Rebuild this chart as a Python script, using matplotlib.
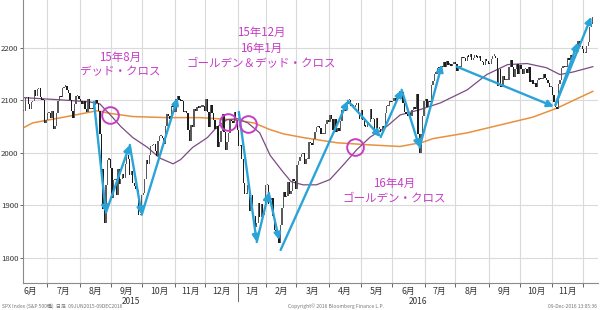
import numpy as np
import pandas as pd
import matplotlib
matplotlib.use('Agg')
import matplotlib.pyplot as plt

plt.rcParams['font.family'] = ['Noto Sans CJK JP', 'DejaVu Sans']

# --- データ（S&P 500 日足終値, 2015/6/9 - 2016/12/9） ---
holidays = ['2015-07-03', '2015-09-07', '2015-11-26', '2015-12-25', '2016-01-01',
            '2016-01-18', '2016-02-15', '2016-03-25', '2016-05-30', '2016-07-04',
            '2016-09-05', '2016-11-24']

close = [
    2080, 2105, 2108, 2094, 2085, 2097, 2100, 2121, 2110, 2122, 2124, 2108, 2102, 2101, 2058, 2063,
    2077, 2077, 2068, 2081, 2047, 2052, 2077, 2100, 2109, 2107, 2124, 2127, 2129, 2120, 2115, 2102,
    2080, 2068, 2093, 2109, 2109, 2104,
    2099, 2094, 2100, 2084, 2078, 2104, 2084, 2086, 2084, 2092, 2102, 2096, 2080, 2036, 1971,
    1893, 1867, 1940, 1988, 1989, 1972,
    1914, 1949, 1951, 1921, 1970, 1942, 1952, 1961, 1953, 1979, 1996, 1990, 1958, 1967, 1943,
    1938, 1932, 1931, 1882, 1884, 1920,
    1924, 1951, 1988, 1980, 1996, 2014, 2015, 2017, 2004, 1994, 2024, 2033, 2033, 2030, 2018,
    2052, 2075, 2071, 2066, 2090, 2089, 2079,
    2104, 2109, 2102, 2100, 2099, 2079, 2081, 2076, 2045, 2023, 2053, 2051, 2084, 2081, 2089,
    2087, 2089, 2089, 2090, 2080,
    2103, 2079, 2050, 2092, 2077, 2063, 2047, 2052, 2012, 2022, 2043, 2074, 2041, 2006, 2021,
    2038, 2064, 2061, 2057, 2078, 2063, 2044,
    2013, 2016, 1990, 1943, 1922, 1923, 1939, 1890, 1921, 1880, 1881, 1859, 1868, 1906, 1878,
    1903, 1882, 1893, 1940,
    1940, 1904, 1912, 1915, 1880, 1853, 1852, 1851, 1829, 1864, 1895, 1927, 1917, 1918, 1945,
    1922, 1929, 1951, 1948, 1932,
    1978, 1986, 1993, 1999, 2001, 1980, 1989, 1989, 2022, 2019, 2015, 2027, 2040, 2050, 2051,
    2049, 2036, 2036, 2037, 2055, 2063, 2060,
    2073, 2066, 2045, 2066, 2041, 2048, 2042, 2061, 2082, 2083, 2081, 2094, 2101, 2102, 2091,
    2092, 2088, 2092, 2095, 2075, 2065,
    2082, 2063, 2052, 2051, 2058, 2059, 2084, 2065, 2065, 2047, 2067, 2047, 2047, 2040, 2052,
    2048, 2076, 2090, 2090, 2099, 2097,
    2099, 2105, 2099, 2110, 2112, 2119, 2116, 2096, 2079, 2075, 2072, 2077, 2071, 2083, 2089,
    2085, 2113, 2037, 2001, 2037, 2071, 2099,
    2103, 2088, 2100, 2098, 2130, 2137, 2152, 2152, 2163, 2162, 2167, 2164, 2173, 2165, 2175,
    2169, 2169, 2167, 2170, 2174,
    2171, 2157, 2164, 2164, 2183, 2181, 2182, 2175, 2186, 2184, 2190, 2178, 2182, 2187, 2184,
    2182, 2186, 2175, 2173, 2169, 2180, 2176, 2171,
    2170, 2180, 2186, 2186, 2182, 2128, 2160, 2127, 2126, 2147, 2139, 2139, 2140, 2164, 2177,
    2165, 2146, 2160, 2171, 2151, 2168,
    2161, 2151, 2160, 2161, 2153, 2164, 2136, 2139, 2132, 2133, 2127, 2140, 2144, 2141, 2141,
    2151, 2143, 2139, 2133, 2126, 2126,
    2111, 2097, 2089, 2085, 2132, 2140, 2163, 2167, 2164, 2165, 2181, 2177, 2188, 2182, 2198,
    2203, 2205, 2213, 2202, 2205, 2199,
    2191, 2192, 2205, 2212, 2241, 2246, 2260,
]

# 50日移動平均（紫）
ma50_dates = ['2015-06-09', '2015-07-14', '2015-08-11', '2015-08-20', '2015-08-31', '2015-09-10',
              '2015-09-22', '2015-10-06', '2015-10-16', '2015-10-29', '2015-11-05', '2015-11-17',
              '2015-12-02', '2015-12-10', '2015-12-21', '2015-12-31', '2016-01-12', '2016-01-25',
              '2016-02-03', '2016-02-17', '2016-02-24', '2016-03-07', '2016-03-18', '2016-04-01',
              '2016-04-14', '2016-04-27', '2016-05-10', '2016-05-25', '2016-06-08', '2016-06-27',
              '2016-07-18', '2016-08-11', '2016-08-30', '2016-09-20', '2016-10-07', '2016-10-26',
              '2016-11-08', '2016-11-21', '2016-12-09']
ma50_vals = [2105, 2101, 2097, 2093, 2072, 2050, 2029, 2010, 1990, 1979, 1987, 2010,
             2029, 2048, 2063, 2065, 2057, 2038, 1995, 1962, 1945, 1939, 1939, 1949,
             1977, 2006, 2030, 2050, 2072, 2082, 2095, 2120, 2149, 2168, 2170, 2162,
             2149, 2154, 2164]

# 200日移動平均（オレンジ）
ma200_dates = ['2015-06-09', '2015-06-17', '2015-07-21', '2015-08-18', '2015-08-31', '2015-09-22',
               '2015-10-23', '2015-11-24', '2015-12-28', '2016-01-19', '2016-02-03', '2016-02-17',
               '2016-03-07', '2016-04-08', '2016-05-10', '2016-06-08', '2016-06-29', '2016-07-11',
               '2016-08-11', '2016-09-13', '2016-10-13', '2016-11-04', '2016-12-09']
ma200_vals = [2048, 2057, 2069, 2080, 2075, 2069, 2067, 2067, 2063, 2057, 2044, 2036,
              2029, 2019, 2015, 2012, 2020, 2027, 2038, 2053, 2068, 2085, 2117]

# 矢印（始点→終点）
arrow_from_dates = ['2015-08-14', '2015-08-26', '2015-09-18', '2015-09-30', '2016-01-04',
                    '2016-01-21', '2016-02-02', '2016-02-12', '2016-04-19', '2016-05-19',
                    '2016-06-09', '2016-06-27', '2016-08-02', '2016-11-03', '2016-11-03']
arrow_from_vals = [2097, 1886, 2015, 1882, 2078, 1830, 1924, 1815, 2099, 2030, 2120, 2010,
                   2164, 2091, 2091]
arrow_to_dates = ['2015-08-26', '2015-09-18', '2015-09-30', '2015-11-03', '2016-01-21',
                  '2016-02-02', '2016-02-11', '2016-04-19', '2016-05-19', '2016-06-09',
                  '2016-06-27', '2016-07-19', '2016-11-02', '2016-11-25', '2016-12-08']
arrow_to_vals = [1886, 2015, 1882, 2105, 1830, 1924, 1834, 2099, 2030, 2120, 2010, 2168,
                 2088, 2210, 2259]

# クロスの丸印
cross_dates = ['2015-08-31', '2015-12-22', '2016-01-12', '2016-04-26']
cross_vals = [2072, 2059, 2055, 2011]

dates = pd.bdate_range('2015-06-09', '2016-12-09', freq='C', holidays=holidays)
n = min(len(dates), len(close))
dates = dates[:n]
close = np.array(close[:n], dtype=float)


def pos(d):
    return dates.get_loc(pd.Timestamp(d))


fig = plt.figure(figsize=(6, 3.1), dpi=100)
ax = fig.add_axes([23 / 600, 27 / 310, 575 / 600, 283 / 310])
ax.set_xlim(-0.5, 384.5)
ax.set_ylim(1752, 2291)

# ローソク足（始値は前日終値）
x = np.arange(n)
op = np.r_[close[0], close[:-1]]
up = close >= op
ax.bar(x, np.maximum(np.abs(close - op), 2.5), bottom=np.minimum(op, close) - 1, width=0.9,
       color=np.where(up, '#5a5a5a', '#1c1c1c'), linewidth=0, zorder=3)

# 移動平均
ax.plot([pos(d) for d in ma200_dates], ma200_vals, color='#e8913f', lw=1.1, zorder=2)
ax.plot([pos(d) for d in ma50_dates], ma50_vals, color='#7d4a84', lw=0.9, zorder=2)

# 矢印
for d0, v0, d1, v1 in zip(arrow_from_dates, arrow_from_vals, arrow_to_dates, arrow_to_vals):
    ax.annotate('', xy=(pos(d1), v1), xytext=(pos(d0), v0),
                arrowprops=dict(arrowstyle='-|>', color='#2aa4d8', lw=1.7,
                                mutation_scale=10, shrinkA=0, shrinkB=0), zorder=5)

# 丸印
ax.plot([pos(d) for d in cross_dates], cross_vals, 'o', mfc='none', mec='#c63ec6',
        ms=12, mew=1.4, zorder=6)

# 注記
txt_color = '#c63ec6'
ax.text(pos('2015-09-10') - 0.5, 2168, '15年8月\nデッド・クロス', color=txt_color, fontsize=8.3,
        ha='center', va='center', linespacing=1.2, zorder=7)
ax.text(pos('2016-01-26'), 2199, '15年12月\n16年1月\nゴールデン＆デッド・クロス', color=txt_color,
        fontsize=8.3, ha='center', va='center', linespacing=1.25, zorder=7)
ax.text(pos('2016-06-02'), 1928, '16年4月\nゴールデン・クロス', color=txt_color, fontsize=8.3,
        ha='center', va='center', linespacing=1.2, zorder=7)

# 月の区切り
month_start = [i for i in range(1, n) if dates[i].month != dates[i - 1].month]
bounds = [i - 0.5 for i in month_start]
ax.set_xticks(bounds)
ax.set_xticklabels([])
ax.tick_params(axis='x', length=3, color='#666666', width=0.7)
widths = np.diff(bounds)
centers = [bounds[0] - widths[0] / 2] + [b + w / 2 for b, w in zip(bounds[:-1], widths)]
labels = ['%d月' % dates[month_start[0] - 1].month] + ['%d月' % dates[i].month for i in month_start[:-1]]
xtr = ax.get_xaxis_transform()
for cx, lab in zip(centers, labels):
    ax.text(cx, -0.03, lab, transform=xtr, fontsize=6.3, color='#333333',
            ha='center', va='center')

# 年ラベル
year_b = [b for b, i in zip(bounds, month_start) if dates[i].month == 1][0]
ax.plot([year_b, year_b], [0, -0.065], transform=xtr, clip_on=False, color='#666666', lw=0.7)
ax.text((-0.5 + year_b) / 2, -0.066, '2015', transform=xtr, fontsize=6, color='#333333',
        ha='center', va='center')
ax.text((year_b + 385) / 2, -0.066, '2016', transform=xtr, fontsize=6, color='#333333',
        ha='center', va='center')

# Y軸
ax.set_yticks([1800, 1900, 2000, 2100, 2200])
ax.tick_params(axis='y', length=2.5, color='#666666', width=0.7, labelsize=5.6,
               labelcolor='#333333', pad=0.8)
ax.grid(True, color='#dadada', lw=0.8)
ax.set_axisbelow(True)
for s in ['top', 'right']:
    ax.spines[s].set_visible(False)
for s in ['left', 'bottom']:
    ax.spines[s].set_color('#8a8a8a')
    ax.spines[s].set_linewidth(0.8)

# フッター
fig.text(0.003, 0.012, 'SPX Index (S&P 500種)  日足  09JUN2015-09DEC2016', fontsize=3.6,
         color='#777777', ha='left', va='center')
fig.text(0.56, 0.012, 'Copyright© 2016 Bloomberg Finance L.P.', fontsize=3.6,
         color='#777777', ha='center', va='center')
fig.text(0.995, 0.012, '09-Dec-2016 13:05:36', fontsize=3.6, color='#777777',
         ha='right', va='center')

fig.savefig('out.png', dpi=100)
